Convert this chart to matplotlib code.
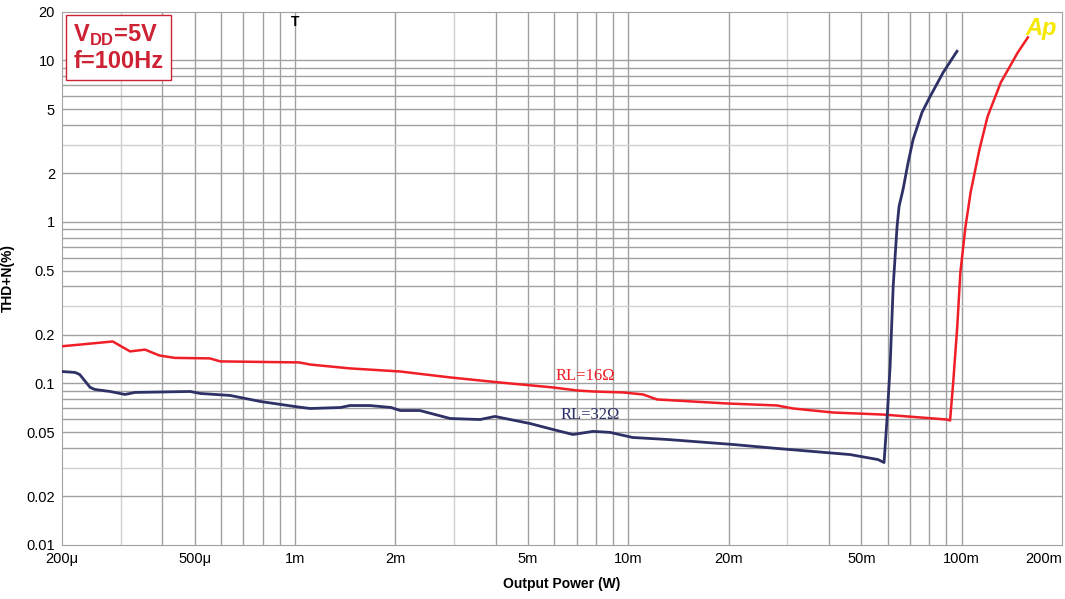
import numpy as np
import matplotlib.pyplot as plt

# output power (W) and THD+N (%)
p16 = [2.0e-4, 2.26e-4, 2.84e-4, 3.2e-4, 3.55e-4, 3.92e-4, 4.36e-4, 5.55e-4, 5.97e-4,
       1.03e-3, 1.11e-3, 1.46e-3, 2.07e-3, 2.92e-3, 4.12e-3, 5.94e-3, 7.02e-3, 7.84e-3,
       9.64e-3, 1.107e-2, 1.22e-2, 1.976e-2, 2.79e-2, 3.12e-2, 4.11e-2, 5.81e-2, 9.04e-2,
       9.23e-2, 9.43e-2, 9.70e-2, 9.91e-2, 1.027e-1, 1.064e-1, 1.13e-1, 1.196e-1,
       1.31e-1, 1.473e-1, 1.58e-1]
thd16 = [0.170, 0.174, 0.182, 0.158, 0.162, 0.149, 0.144, 0.143, 0.137,
         0.135, 0.131, 0.124, 0.1186, 0.109, 0.1014, 0.0945, 0.0905, 0.0892,
         0.0880, 0.0855, 0.0796, 0.0752, 0.0731, 0.0700, 0.0661, 0.0642, 0.0598,
         0.059, 0.101, 0.225, 0.487, 0.94, 1.53, 2.8, 4.5,
         7.3, 11.2, 13.9]

p32 = [2.0e-4, 2.19e-4, 2.26e-4, 2.43e-4, 2.51e-4, 2.79e-4, 3.09e-4, 3.31e-4, 4.85e-4,
       5.2e-4, 6.39e-4, 7.86e-4, 9.99e-4, 1.11e-3, 1.37e-3, 1.46e-3, 1.68e-3, 1.94e-3,
       2.07e-3, 2.37e-3, 2.92e-3, 3.59e-3, 3.98e-3, 4.12e-3, 5.07e-3, 5.94e-3, 6.82e-3,
       7.84e-3, 8.81e-3, 1.03e-2, 1.31e-2, 2.06e-2, 2.79e-2, 4.62e-2, 5.61e-2, 5.85e-2,
       5.97e-2, 6.1e-2, 6.23e-2, 6.4e-2, 6.49e-2, 6.67e-2, 6.91e-2, 7.15e-2, 7.6e-2,
       8.04e-2, 8.8e-2, 9.68e-2]
thd32 = [0.1186, 0.117, 0.1137, 0.0945, 0.0918, 0.0892, 0.0855, 0.088, 0.0892,
         0.0867, 0.0843, 0.0774, 0.072, 0.070, 0.071, 0.073, 0.073, 0.071,
         0.068, 0.068, 0.0607, 0.0598, 0.0625, 0.0616, 0.0565, 0.0519, 0.0483,
         0.0505, 0.0498, 0.0463, 0.0450, 0.0419, 0.0396, 0.0363, 0.0338, 0.0324,
         0.0598, 0.1274, 0.398, 0.938, 1.25, 1.59, 2.34, 3.24, 4.76,
         5.98, 8.43, 11.4]

xticks = [2e-4, 5e-4, 1e-3, 2e-3, 5e-3, 1e-2, 2e-2, 5e-2, 1e-1, 2e-1]
xlabels = ['200\u03bc', '500\u03bc', '1m', '2m', '5m', '10m', '20m', '50m', '100m', '200m']
yticks = [0.01, 0.02, 0.05, 0.1, 0.2, 0.5, 1, 2, 5, 10, 20]
ylabels = ['0.01', '0.02', '0.05', '0.1', '0.2', '0.5', '1', '2', '5', '10', '20']

plt.rcParams['font.family'] = ['Liberation Sans', 'DejaVu Sans']
plt.rcParams['mathtext.fontset'] = 'custom'
plt.rcParams['mathtext.rm'] = 'Liberation Sans'
plt.rcParams['mathtext.bf'] = 'Liberation Sans:bold'

red = '#f01e26'
navy = '#2e3166'

fig = plt.figure(figsize=(10.65, 5.99), dpi=100)
ax = fig.add_axes([0.0582, 0.0902, 0.939, 0.89])
ax.set_xscale('log')
ax.set_yscale('log')
ax.set_xlim(2e-4, 2e-1)
ax.set_ylim(0.01, 20)

# grid: every 1..9 per decade, the 3s drawn lighter
for dec in [1e-4, 1e-3, 1e-2, 1e-1]:
    for m in range(1, 10):
        v = m * dec
        if 2e-4 < v < 2e-1:
            ax.axvline(v, color='#d0d0d0' if m == 3 else '#a0a0a0', lw=1, zorder=0)
for dec in [1e-2, 1e-1, 1, 10]:
    for m in range(1, 10):
        v = m * dec
        if 0.01 < v < 20:
            ax.axhline(v, color='#d0d0d0' if m == 3 else '#a0a0a0', lw=1, zorder=0)

ax.plot(p16, thd16, color=red, lw=1.8, zorder=3)
ax.plot(p32, thd32, color=navy, lw=2.0, zorder=3)

ax.set_xticks(xticks)
ax.set_xticklabels(xlabels)
ax.set_yticks(yticks)
ax.set_yticklabels(ylabels)
ax.minorticks_off()
ax.tick_params(length=0, labelsize=10.5, pad=5)
ax.get_xticklabels()[-1].set_ha('right')
for s in ax.spines.values():
    s.set_color('#a0a0a0')

ax.set_xlabel('Output Power (W)', fontsize=10, fontweight='bold', labelpad=8)
ax.set_ylabel('THD+N(%)', fontsize=10, fontweight='bold', labelpad=8)

ax.text(7.42e-3, 0.112, 'RL=16\u03a9', color=red, fontsize=12,
        family=['Liberation Serif', 'DejaVu Serif'], ha='center', va='center')
ax.text(7.7e-3, 0.0634, 'RL=32\u03a9', color=navy, fontsize=12,
        family=['Liberation Serif', 'DejaVu Serif'], ha='center', va='center')

ax.text(0.0115, 0.979, 'V$_{\\mathbf{DD}}$=5V\nf=100Hz', transform=ax.transAxes,
        color='#cc2233', fontsize=17, fontweight='bold', ha='left', va='top',
        linespacing=1.1,
        bbox=dict(boxstyle='square,pad=0.3', fc='white', ec='#cc2233', lw=1))
ax.text(1.0e-3, 19, 'T', color='black', fontsize=10, fontweight='bold',
        ha='center', va='top')
ax.text(0.995, 0.99, 'Ap', transform=ax.transAxes, color='#f5e800',
        fontsize=17, fontweight='bold', style='italic', ha='right', va='top')

plt.savefig('out.png', dpi=100)
